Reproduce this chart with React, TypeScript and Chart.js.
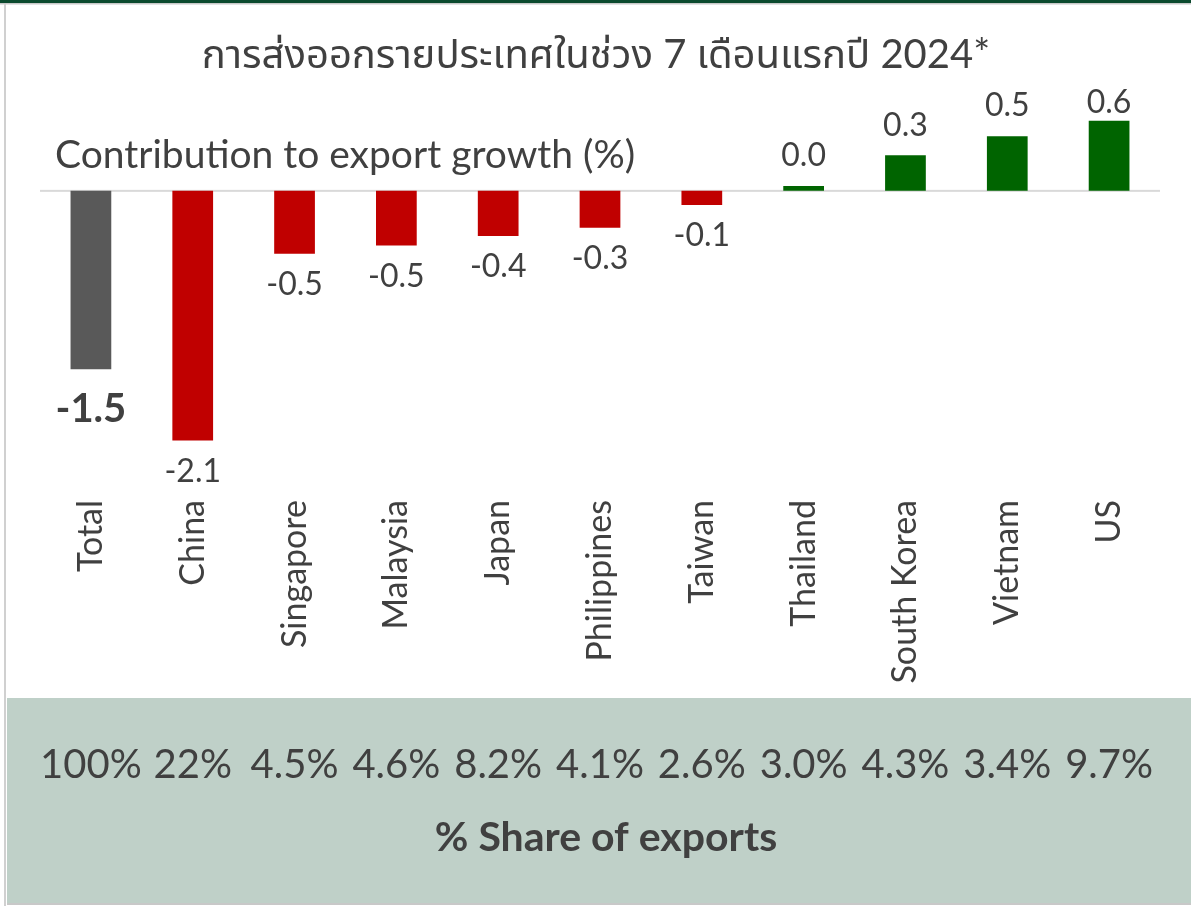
import React, { useEffect, useRef } from "react";
import { Chart, registerables } from "chart.js";

Chart.register(...registerables);

const categories = ["Total", "China", "Singapore", "Malaysia", "Japan", "Philippines", "Taiwan", "Thailand", "South Korea", "Vietnam", "US"];
const contribution = [-1.5, -2.1, -0.53, -0.46, -0.38, -0.31, -0.12, 0.04, 0.3, 0.46, 0.59];
const shareOfExports = ["100%", "22%", "4.5%", "4.6%", "8.2%", "4.1%", "2.6%", "3.0%", "4.3%", "3.4%", "9.7%"];
const titleText = "การส่งออกรายประเทศในช่วง 7 เดือนแรกปี 2024*";
const subtitleText = "Contribution to export growth (%)";
const shareTitle = "% Share of exports";

const FONT = "Lato, 'Noto Sans Thai', 'Noto Sans', sans-serif";
const TEXT = "#404040";

const W = 1191;
const H = 906;

export default function App() {
  const ref = useRef<HTMLCanvasElement | null>(null);

  useEffect(() => {
    document.body.style.margin = "0";
    const canvas = ref.current;
    if (!canvas) return;

    const colors = contribution.map((v, i) => (i === 0 ? "#595959" : v < 0 ? "#c00000" : "#006400"));

    const decor = {
      id: "decor",
      beforeDraw(chart: any) {
        const ctx = chart.ctx;
        ctx.save();
        ctx.fillStyle = "#ffffff";
        ctx.fillRect(0, 0, W, H);
        // top bar
        ctx.fillStyle = "#0b4a2e";
        ctx.fillRect(0, 0, W, 3);
        ctx.fillStyle = "#c8c8c8";
        ctx.fillRect(0, 3, W, 1.5);
        // left border
        ctx.fillStyle = "#d0d0d0";
        ctx.fillRect(4, 4, 2, H - 4);
        // bottom panel
        ctx.fillStyle = "#bfd0c8";
        ctx.fillRect(7, 698, W - 7, 206);
        ctx.fillStyle = "#c8c8c8";
        ctx.fillRect(7, 903, W - 7, 2);
        // zero line
        const y0 = chart.scales.y.getPixelForValue(0);
        ctx.fillStyle = "#d9d9d9";
        ctx.fillRect(chart.chartArea.left, y0 - 1, chart.chartArea.right - chart.chartArea.left, 2);
        // title
        ctx.fillStyle = TEXT;
        ctx.textBaseline = "middle";
        ctx.textAlign = "center";
        ctx.font = `40px ${FONT}`;
        ctx.fillText(titleText, 596, 55);
        ctx.textAlign = "left";
        ctx.font = `39px ${FONT}`;
        ctx.fillText(subtitleText, 55, 155);
        ctx.restore();
      },
      afterDatasetsDraw(chart: any) {
        const ctx = chart.ctx;
        const meta = chart.getDatasetMeta(0);
        ctx.save();
        ctx.fillStyle = TEXT;
        ctx.textAlign = "center";
        ctx.textBaseline = "middle";
        meta.data.forEach((bar: any, i: number) => {
          const v = contribution[i];
          const label = v.toFixed(1);
          if (i === 0) {
            ctx.font = `bold 40px ${FONT}`;
            ctx.fillText(label, bar.x, bar.y + 40);
          } else {
            ctx.font = `32px ${FONT}`;
            const y = v < 0 ? bar.y + 31 : Math.max(bar.y - 30, chart.chartArea.top + 31);
            ctx.fillText(label, bar.x, y);
          }
        });
        // share row
        const xs = chart.scales.x;
        ctx.font = `40px ${FONT}`;
        shareOfExports.forEach((s, i) => {
          ctx.fillText(s, xs.getPixelForValue(i), 765);
        });
        ctx.font = `bold 41px ${FONT}`;
        ctx.fillText(shareTitle, 606, 838);
        ctx.restore();
      },
    };

    const chart = new Chart(canvas, {
      type: "bar",
      data: {
        labels: categories,
        datasets: [
          {
            data: contribution,
            backgroundColor: colors,
            borderWidth: 0,
            barPercentage: 0.8,
            categoryPercentage: 0.5,
          },
        ],
      },
      options: {
        responsive: false,
        animation: false,
        layout: { padding: { top: 72, bottom: 208, left: 40, right: 31 } },
        plugins: { legend: { display: false }, tooltip: { enabled: false }, title: { display: false } },
        scales: {
          x: {
            grid: { display: false, drawTicks: false },
            border: { display: false },
            ticks: {
              minRotation: 90,
              maxRotation: 90,
              padding: 12,
              color: TEXT,
              font: { family: FONT, size: 34 },
              autoSkip: false,
            },
            afterFit: (scale: any) => {
              scale.height = 210;
            },
          },
          y: {
            display: false,
            min: -2.5,
            max: 1.0,
          },
        },
      },
      plugins: [decor],
    });

    return () => chart.destroy();
  }, []);

  return <canvas ref={ref} width={W} height={H} style={{ display: "block" }} />;
}
